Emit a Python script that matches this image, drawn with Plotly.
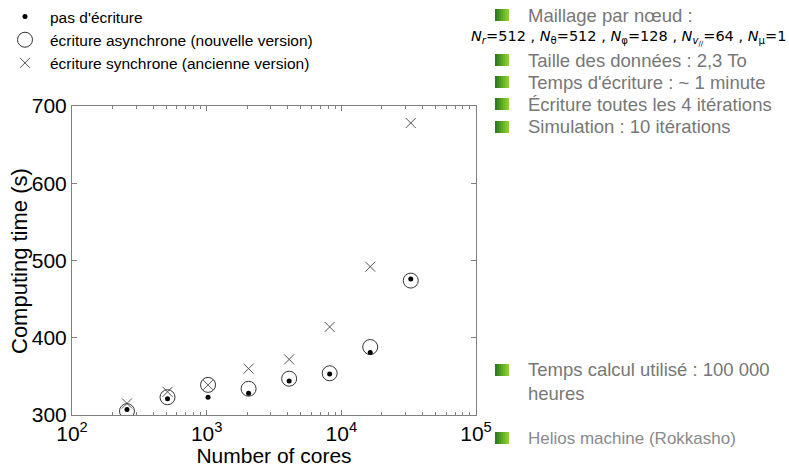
import plotly.graph_objects as go

cores = [256, 512, 1024, 2048, 4096, 8192, 16384, 32768]
t_no_write = [307, 321, 323, 328, 344, 353, 381, 476]
t_async = [305, 323, 339, 334, 347, 354, 388, 474]
t_sync = [315, 330, 339, 360, 372, 414, 492, 678]

legend_names = ["pas d'écriture", "écriture asynchrone (nouvelle version)",
                "écriture synchrone (ancienne version)"]

x_tickvals = [100, 1000, 10000, 100000]
x_ticktext = ["10<sup>2</sup>", "10<sup>3</sup>", "10<sup>4</sup>", "10<sup>5</sup>"]
x_minor = [m * 10 ** e for e in (2, 3, 4) for m in range(2, 10)]
y_tickvals = [300, 400, 500, 600, 700]

x_title = "Number of cores"
y_title = "Computing time (s)"

bullets_top = ["Maillage par nœud :", "Taille des données : 2,3 To",
               "Temps d'écriture : ~ 1 minute", "Écriture toutes les 4 itérations",
               "Simulation : 10 itérations"]
math_line = ("<i>N</i><sub><i>r</i></sub>=512 , <i>N</i><sub>θ</sub>=512 , "
             "<i>N</i><sub>φ</sub>=128 , <i>N</i><sub><i>v</i><sub>//</sub></sub>=64 , "
             "<i>N</i><sub>μ</sub>=1")
bullet_calc = "Temps calcul utilisé : 100 000<br>heures"
bullet_machine = "Helios machine (Rokkasho)"

FONT = "Liberation Sans, Arial, Helvetica, sans-serif"
W, H = 789, 467
L, R, T, B = 72, 313, 106, 52
PW, PH = W - L - R, H - T - B

def px(x):
    return (x - L) / PW

def py(y):
    return (H - B - y) / PH

fig = go.Figure()
fig.add_trace(go.Scatter(x=cores, y=t_sync, mode="markers", name=legend_names[2],
                         legendrank=3,
                         marker=dict(symbol="x-thin", size=10, color="#555555",
                                     line=dict(width=1, color="#555555"))))
fig.add_trace(go.Scatter(x=cores, y=t_async, mode="markers", name=legend_names[1],
                         legendrank=2,
                         marker=dict(symbol="circle-open", size=15, color="#333333",
                                     line=dict(width=1, color="#333333"))))
fig.add_trace(go.Scatter(x=cores, y=t_no_write, mode="markers", name=legend_names[0],
                         legendrank=1,
                         marker=dict(symbol="circle", size=5, color="black")))

axis_common = dict(showline=True, linecolor="#7f7f7f", linewidth=1, mirror="allticks",
                   ticks="inside", tickcolor="#7f7f7f", ticklen=5, showgrid=False,
                   zeroline=False, tickfont=dict(family=FONT, size=21, color="black"))

fig.update_xaxes(type="log", range=[2, 5], tickvals=x_tickvals, ticktext=x_ticktext,
                 minor=dict(ticks="inside", ticklen=3, tickcolor="#7f7f7f", showgrid=False,
                            tickvals=x_minor),
                 title=dict(text=x_title, font=dict(family=FONT, size=21, color="black"),
                            standoff=0),
                 **axis_common)
fig.update_yaxes(range=[300, 700], tickvals=y_tickvals, **axis_common)

fig.add_annotation(xref="paper", yref="paper", x=px(19), y=py(261), text=y_title,
                   textangle=-90, showarrow=False, xanchor="center", yanchor="middle",
                   font=dict(family=FONT, size=22, color="black"))

fig.update_layout(
    width=W, height=H, margin=dict(l=L, r=R, t=T, b=B, autoexpand=False),
    paper_bgcolor="white", plot_bgcolor="white",
    font=dict(family=FONT),
    legend=dict(xref="container", yref="container", x=0.0, y=1.017, xanchor="left",
                yanchor="top", font=dict(family=FONT, size=15.5, color="black"),
                bgcolor="rgba(0,0,0,0)", itemwidth=40),
)

greens = ["#2d7a1f", "#3c8a22", "#4c9a25", "#5ca928", "#6cb82a", "#7dc52d", "#8ccf31"]

def square(ypix):
    x0 = 495
    for i, c in enumerate(greens):
        fig.add_shape(type="rect", xref="paper", yref="paper",
                      x0=px(x0 + i * 2), x1=px(x0 + i * 2 + 2),
                      y0=py(ypix + 6), y1=py(ypix - 6),
                      line=dict(width=0), fillcolor=c)

def bullet(ypix, text, size=18.5, color="#777777"):
    square(ypix)
    fig.add_annotation(xref="paper", yref="paper", x=px(526), y=py(ypix),
                       xanchor="left", yanchor="middle",
                       text=text, showarrow=False, align="left",
                       font=dict(family=FONT, size=size, color=color))

ys_top = [15, 60, 82, 104, 127]
for yy, tt in zip(ys_top, bullets_top):
    bullet(yy, tt)

fig.add_annotation(xref="paper", yref="paper", x=px(788), y=py(38),
                   xanchor="right", yanchor="middle",
                   text=math_line, showarrow=False,
                   font=dict(family="DejaVu Sans", size=14.5, color="black"))

square(370)
fig.add_annotation(xref="paper", yref="paper", x=px(526), y=py(357),
                   xanchor="left", yanchor="top",
                   text=bullet_calc, showarrow=False, align="left",
                   font=dict(family=FONT, size=18.5, color="#777777"))
bullet(438, bullet_machine, 17, "#8a8a8a")

fig.write_html("out.html")
